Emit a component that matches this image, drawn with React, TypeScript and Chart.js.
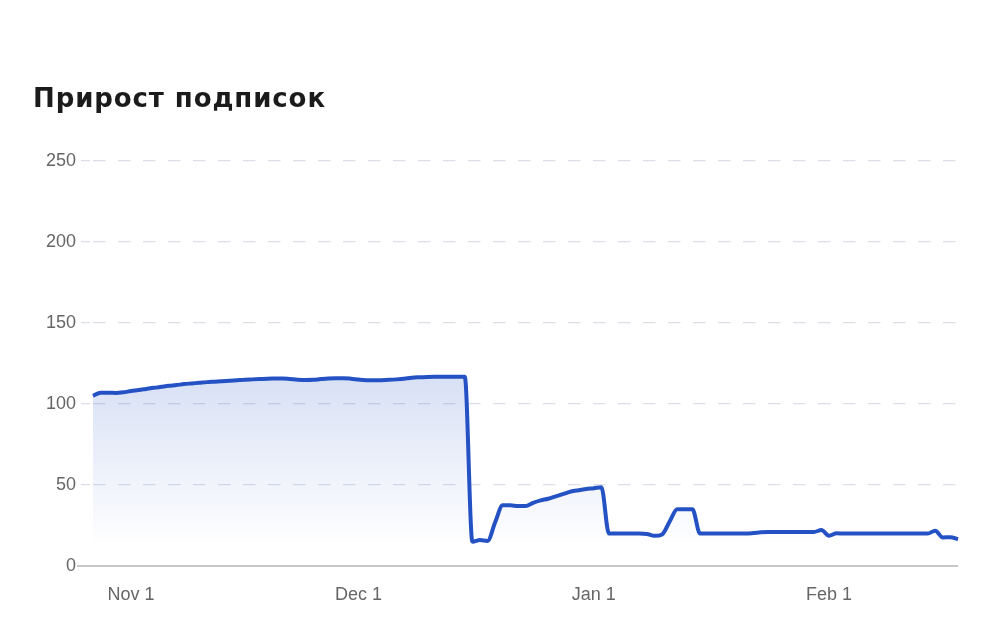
import React, { useEffect, useRef } from "react";
import { Chart, registerables } from "chart.js";

Chart.register(...registerables);

const TITLE = "Прирост подписок";
const START_DATE = { year: 2023, month: 9, day: 27 }; // Oct 27
const MONTH_NAMES = ["Jan", "Feb", "Mar", "Apr", "May", "Jun", "Jul", "Aug", "Sep", "Oct", "Nov", "Dec"];

// daily values, Oct 27 .. Feb 18
const octValues = [105, 107, 107, 106.8, 107.2];
const novValues = [
  108, 108.6, 109.3, 110, 110.6, 111.2, 111.7, 112.3, 112.7, 113.1,
  113.5, 113.8, 114.1, 114.4, 114.7, 115, 115.2, 115.4, 115.6, 115.7,
  115.8, 115.4, 115, 114.8, 114.9, 115.4, 115.8, 115.9, 115.9, 115.6,
];
const decValues = [
  115.1, 114.7, 114.6, 114.7, 114.9, 115.2, 115.6, 116.2, 116.5, 116.7,
  116.8, 116.8, 116.8, 116.8, 116.8, 15, 16, 15.5, 27, 37.5,
  37.5, 37, 37, 39, 40.5, 41.5, 43, 44.5, 46, 46.8, 47.5,
];
const janValues = [
  48, 48.6, 20, 20, 20, 20, 20, 19.8, 18.6, 19.5,
  27.5, 35, 35, 35, 20, 20, 20, 20, 20, 20,
  20, 20.3, 20.8, 21, 21, 21, 21, 21, 21, 21, 22.2,
];
const febValues = [18.7, 20.2, 20, 20, 20, 20, 20, 20, 20, 20, 20, 20, 20, 20, 21.8, 17.6, 17.8, 16.5];

const seriesValues = [...octValues, ...novValues, ...decValues, ...janValues, ...febValues];

const Y_MIN = 0;
const Y_MAX = 250;
const Y_STEP = 50;

function buildDateLabels(count: number): string[] {
  const out: string[] = [];
  for (let i = 0; i < count; i++) {
    const d = new Date(Date.UTC(START_DATE.year, START_DATE.month, START_DATE.day + i));
    out.push(`${MONTH_NAMES[d.getUTCMonth()]} ${d.getUTCDate()}`);
  }
  return out;
}

const dateLabels = buildDateLabels(seriesValues.length);

const LINE_COLOR = "#2452c4";
const TICK_FONT = { family: "'Liberation Sans', Arial, sans-serif", size: 18 };
const Y_TICK_LENGTH = 16;

const zeroLinePlugin = {
  id: "zeroLine",
  beforeDatasetsDraw(chart: any) {
    const y = chart.scales.y;
    const area = chart.chartArea;
    if (!y || !area) return;
    const py = y.getPixelForValue(0);
    const c = chart.ctx;
    c.save();
    c.strokeStyle = "#b4b4b4";
    c.lineWidth = 1.5;
    c.setLineDash([]);
    c.beginPath();
    c.moveTo(area.left - Y_TICK_LENGTH, py);
    c.lineTo(area.right, py);
    c.stroke();
    c.restore();
  },
};

export default function App() {
  const canvasRef = useRef<HTMLCanvasElement | null>(null);

  useEffect(() => {
    document.body.style.margin = "0";
    const canvas = canvasRef.current;
    if (!canvas) return;
    const chart = new Chart(canvas, {
      type: "line",
      data: {
        labels: dateLabels,
        datasets: [
          {
            data: seriesValues,
            borderColor: LINE_COLOR,
            borderWidth: 4,
            pointRadius: 0,
            pointHoverRadius: 0,
            cubicInterpolationMode: "monotone",
            fill: "origin",
            backgroundColor: (ctx: any) => {
              const c = ctx.chart;
              const yScale = c.scales?.y;
              if (!c.chartArea || !yScale) return "rgba(36,82,196,0.1)";
              const g = c.ctx.createLinearGradient(0, yScale.getPixelForValue(118), 0, yScale.getPixelForValue(12));
              g.addColorStop(0, "rgba(36,82,196,0.18)");
              g.addColorStop(1, "rgba(36,82,196,0)");
              return g;
            },
          },
        ],
      },
      plugins: [zeroLinePlugin],
      options: {
        animation: false,
        responsive: true,
        maintainAspectRatio: false,
        layout: { padding: { top: 161, left: 0, right: 42, bottom: 0 } },
        plugins: {
          legend: { display: false },
          tooltip: { enabled: false },
          title: { display: false },
        },
        scales: {
          x: {
            type: "category",
            grid: { display: false, drawTicks: false },
            border: { display: false },
            afterFit: (scale: any) => {
              scale.height = 76;
            },
            ticks: {
              autoSkip: false,
              maxRotation: 0,
              minRotation: 0,
              padding: 18,
              color: "#666666",
              font: TICK_FONT,
              callback: (_v: any, index: number) => {
                const l = dateLabels[index];
                return l.endsWith(" 1") ? l : null;
              },
            },
          },
          y: {
            min: Y_MIN,
            max: Y_MAX,
            border: { display: false, dash: [12.5, 12.5] },
            afterFit: (scale: any) => {
              scale.width = 93;
            },
            grid: {
              color: (ctx: any) => (ctx.tick && ctx.tick.value === 0 ? "rgba(0,0,0,0)" : "#dedee8"),
              tickColor: (ctx: any) => (ctx.tick && ctx.tick.value === 0 ? "rgba(0,0,0,0)" : "#dedee8"),
              lineWidth: 1.3,
              tickWidth: 1.3,
              tickBorderDash: [0, 4, 9, 3],
              tickLength: Y_TICK_LENGTH,
              drawTicks: true,
            },
            ticks: {
              stepSize: Y_STEP,
              padding: 1,
              color: "#666666",
              font: TICK_FONT,
            },
          },
        },
      } as any,
    });
    return () => chart.destroy();
  }, []);

  return (
    <div style={{ position: "absolute", left: 0, top: 0, width: 1000, height: 642, background: "#ffffff" }}>
      <canvas ref={canvasRef} />
      <div
        style={{
          position: "absolute",
          left: 33,
          top: 83,
          fontFamily: "'DejaVu Sans', sans-serif",
          fontWeight: 700,
          fontSize: 26,
          letterSpacing: "0.9px",
          lineHeight: "30px",
          color: "#1b1b1b",
          whiteSpace: "nowrap",
        }}
      >
        {TITLE}
      </div>
    </div>
  );
}
